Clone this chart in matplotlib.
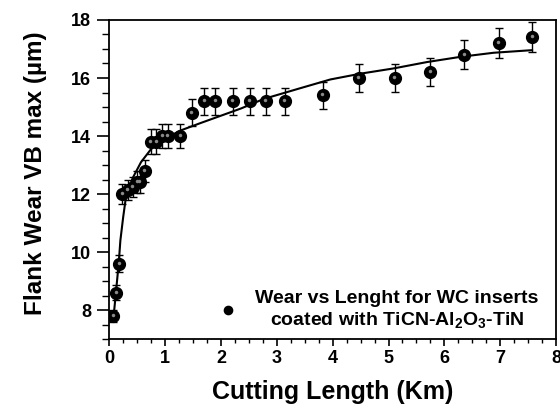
import numpy as np
import matplotlib
matplotlib.use("Agg")
import matplotlib.pyplot as plt
from matplotlib.ticker import MultipleLocator
from matplotlib.transforms import offset_copy

# measured points (km, um) with error bars
length_km = [0.07, 0.125, 0.18, 0.23, 0.33, 0.42, 0.50, 0.55, 0.64, 0.74, 0.84,
             0.95, 1.05, 1.27, 1.48, 1.70, 1.90, 2.21, 2.52, 2.80, 3.14, 3.82,
             4.47, 5.11, 5.75, 6.36, 6.97, 7.57]
wear_um = [7.8, 8.6, 9.6, 12.0, 12.15, 12.25, 12.4, 12.4, 12.8, 13.8, 13.8,
           14.0, 14.0, 14.0, 14.8, 15.2, 15.2, 15.2, 15.2, 15.2, 15.2, 15.4,
           16.0, 16.0, 16.2, 16.8, 17.2, 17.4]
wear_err = [0.2, 0.25, 0.3, 0.35, 0.35, 0.35, 0.38, 0.38, 0.38, 0.43, 0.43,
            0.42, 0.42, 0.42, 0.46, 0.46, 0.46, 0.46, 0.46, 0.46, 0.46, 0.47,
            0.48, 0.48, 0.49, 0.5, 0.52, 0.52]

# fitted curve
fit_x = [0.07, 0.12, 0.17, 0.20, 0.25, 0.30, 0.42, 0.57, 0.75, 0.93, 1.29,
         1.64, 2.0, 2.36, 2.77, 3.37, 3.96, 4.5, 5.09, 5.69, 6.29, 6.88, 7.57]
fit_y = [7.6, 8.6, 9.6, 10.4, 11.2, 11.9, 12.55, 13.1, 13.55, 13.85, 14.2,
         14.45, 14.7, 14.95, 15.28, 15.62, 15.95, 16.15, 16.33, 16.55, 16.73,
         16.87, 16.96]

plt.rcParams['font.family'] = ['Liberation Sans', 'DejaVu Sans']
plt.rcParams['font.weight'] = 'bold'
plt.rcParams['axes.labelweight'] = 'bold'
plt.rcParams['mathtext.default'] = 'regular'

fig = plt.figure(figsize=(5.6, 4.08), dpi=100)
ax = fig.add_axes([0.195, 0.169, 0.798, 0.782])

ax.plot(fit_x, fit_y, color='black', linewidth=1.5, zorder=2)
ax.errorbar(length_km, wear_um, yerr=wear_err, fmt='none', ecolor='black',
            elinewidth=1.0, capsize=3, capthick=1.0, zorder=3)
ax.plot(length_km, wear_um, 'o', color='black', markersize=8.5, zorder=4,
        label='Wear vs Lenght for WC inserts\ncoated with TiCN-Al$_2$O$_3$-TiN')
hl = offset_copy(ax.transData, fig=fig, x=-0.5, y=1, units='dots')
ax.plot(length_km, wear_um, 'o', color='#8a8a8a', markersize=2.5,
        markeredgewidth=0, transform=hl, zorder=5)

ax.set_xlim(0, 8)
ax.set_ylim(7, 18)
ax.xaxis.set_major_locator(MultipleLocator(1))
ax.xaxis.set_minor_locator(MultipleLocator(0.25))
ax.yaxis.set_major_locator(MultipleLocator(2))
ax.yaxis.set_minor_locator(MultipleLocator(0.5))
ax.tick_params(axis='y', which='major', direction='out', length=9, width=1.2,
               labelsize=13, pad=4)
ax.tick_params(axis='y', which='minor', direction='out', length=5, width=1.0)
ax.tick_params(axis='x', which='major', direction='out', length=5, width=1.2,
               labelsize=13, pad=3)
ax.tick_params(axis='x', which='minor', direction='out', length=3, width=1.0)
for s in ax.spines.values():
    s.set_linewidth(1.3)

ax.set_xlabel('Cutting Length (Km)', fontsize=18, va='center')
ax.set_ylabel('Flank Wear VB max (\u00b5m)', fontsize=17.5, va='center')
ax.xaxis.set_label_coords(0.5, -0.165)
ax.yaxis.set_label_coords(-0.165, 0.52)

leg = ax.legend(loc='lower right', bbox_to_anchor=(1.0, -0.028),
                frameon=False, fontsize=14,
                handlelength=1.0, handletextpad=0.9, markerscale=0.7,
                borderaxespad=0.5, labelspacing=0.2)
for t in leg.get_texts():
    t.set_multialignment('center')

fig.savefig('out.png', dpi=100)
